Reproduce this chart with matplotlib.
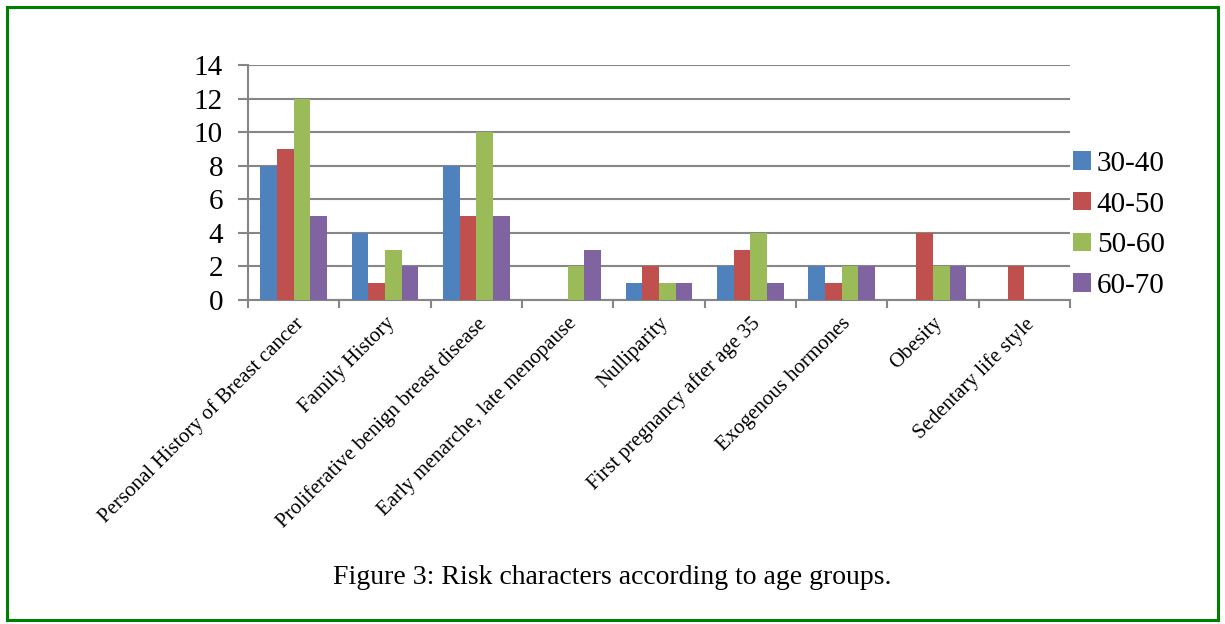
import numpy as np
import matplotlib
matplotlib.use("Agg")
import matplotlib.pyplot as plt
from matplotlib.patches import Rectangle

categories = ["Personal History of Breast cancer", "Family History",
              "Proliferative benign breast disease", "Early menarche, late menopause",
              "Nulliparity", "First pregnancy after age 35", "Exogenous hormones",
              "Obesity", "Sedentary life style"]
groups = ["30-40", "40-50", "50-60", "60-70"]
age_30_40 = [8, 4, 8, 0, 1, 2, 2, 0, 0]
age_40_50 = [9, 1, 5, 0, 2, 3, 1, 4, 2]
age_50_60 = [12, 3, 10, 2, 1, 4, 2, 2, 0]
age_60_70 = [5, 2, 5, 3, 1, 1, 2, 2, 0]
series = [age_30_40, age_40_50, age_50_60, age_60_70]
colors = ["#4F81BD", "#C0504D", "#9BBB59", "#8064A2"]

plt.rcParams['font.family'] = ['Liberation Serif', 'DejaVu Serif']

fig = plt.figure(figsize=(12.25, 6.24), dpi=100)
ax = fig.add_axes([248/1225, 1-300/624, (1070-248)/1225, (300-65)/624])

x = np.arange(len(categories))
w = 0.183
for j, vals in enumerate(series):
    ax.bar(x + (j - 1.5) * w, vals, w, color=colors[j], label=groups[j], zorder=3)

gray = "#868686"
ax.set_ylim(0, 14)
ax.set_yticks(range(0, 15, 2))
ax.set_xlim(-0.5, len(categories) - 0.5)
ax.grid(axis='y', color=gray, linewidth=1.5, zorder=0)
for s in ['top', 'right']:
    ax.spines[s].set_visible(False)
for s in ['left', 'bottom']:
    ax.spines[s].set_color(gray)
    ax.spines[s].set_linewidth(1.5)
ax.tick_params(axis='y', length=7, width=1.5, color=gray, labelsize=21, pad=11)
ax.set_xticks(x)
ax.set_xticklabels(categories, rotation=45, ha='right', rotation_mode='anchor', fontsize=15)
ax.tick_params(axis='x', length=0, pad=10)
ax.set_xticks(np.arange(-0.5, len(categories), 1), minor=True)
ax.tick_params(axis='x', which='minor', length=6, width=1.5, color=gray)

leg = ax.legend(loc='center left', bbox_to_anchor=(0.99, 0.32), frameon=False,
                fontsize=21, handlelength=0.6, handleheight=0.6, handletextpad=0.2,
                labelspacing=0.5, borderaxespad=0)

fig.text(0.5, 1-578/624, "Figure 3: Risk characters according to age groups.",
         ha='center', va='center', fontsize=20)

fig.patches.append(Rectangle((7/1225, 4/624), 1-14/1225, 1-11/624, transform=fig.transFigure,
                             fill=False, edgecolor="#008000", linewidth=2.2))

fig.savefig("out.png", dpi=100)
